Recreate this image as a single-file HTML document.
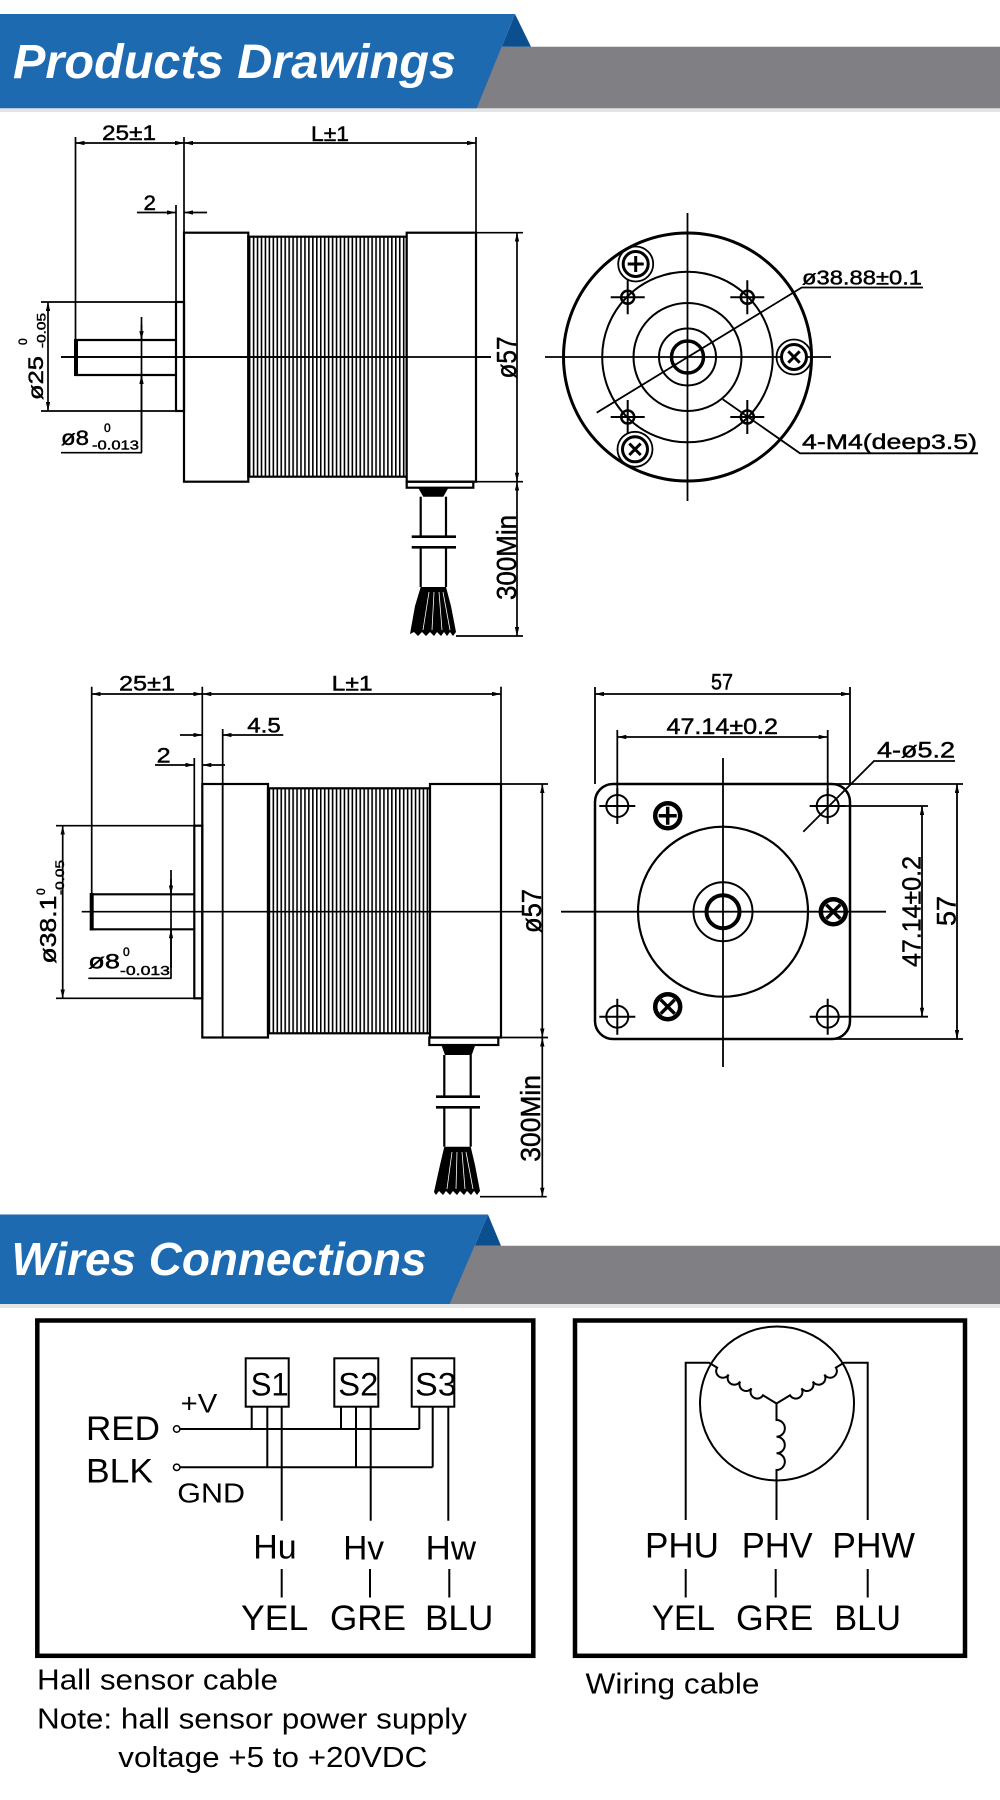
<!DOCTYPE html>
<html><head><meta charset="utf-8"><style>
html,body{margin:0;padding:0;background:#fff;}
svg{display:block;}
text{font-family:"Liberation Sans",Arial,sans-serif;fill:#000;}
.c{stroke:#000;stroke-width:0.45;}
</style></head><body>
<svg width="1000" height="1800" viewBox="0 0 1000 1800" xmlns="http://www.w3.org/2000/svg">
<defs>
<marker id="ar" viewBox="0 0 9 4.4" refX="9" refY="2.2" markerWidth="9" markerHeight="4.4" markerUnits="userSpaceOnUse" orient="auto-start-reverse"><path d="M0,0 L9,2.2 L0,4.4z" fill="#000" stroke="none"/></marker>
<pattern id="fin" x="0" y="0" width="3.95" height="20" patternUnits="userSpaceOnUse"><rect x="0" y="0" width="1.6" height="20" fill="#000"/></pattern>
</defs>
<rect width="1000" height="1800" fill="#fff"/>

<!-- Banner 1 -->
<rect x="0" y="108" width="1000" height="4" fill="#e4e4e4"/>
<polygon points="400,46.7 1000,46.7 1000,108.3 400,108.3" fill="#807f84"/>
<polygon points="515,14 531,46.7 501.7,46.7" fill="#0c4f8e"/>
<polygon points="0,14 515,14 476.7,108.3 0,108.3" fill="#1e6ab1"/>
<text x="13" y="78" font-size="48" font-weight="bold" font-style="italic" style="fill:#fff" textLength="443" lengthAdjust="spacingAndGlyphs">Products Drawings</text>

<!-- Banner 2 -->
<rect x="0" y="1304" width="1000" height="4" fill="#e4e4e4"/>
<polygon points="380,1245.7 1000,1245.7 1000,1304 380,1304" fill="#807f84"/>
<polygon points="488,1214.5 501,1245.7 474.6,1245.7" fill="#0c4f8e"/>
<polygon points="0,1214.5 488,1214.5 449.6,1304 0,1304" fill="#1e6ab1"/>
<text x="11.5" y="1275" font-size="46" font-weight="bold" font-style="italic" style="fill:#fff" textLength="415" lengthAdjust="spacingAndGlyphs">Wires Connections</text>

<!-- ===== Drawing 1: side view ===== -->
<g fill="none" stroke="#000" stroke-width="1.7">
 <line x1="75.5" y1="137" x2="75.5" y2="340"/>
 <line x1="184" y1="137" x2="184" y2="233"/>
 <line x1="476" y1="137" x2="476" y2="233"/>
 <line x1="75.5" y1="143" x2="184" y2="143" marker-start="url(#ar)" marker-end="url(#ar)"/>
 <line x1="184" y1="143" x2="476" y2="143" marker-start="url(#ar)" marker-end="url(#ar)"/>
 <line x1="176" y1="205" x2="176" y2="302"/>
 <line x1="137" y1="212.5" x2="176" y2="212.5" marker-end="url(#ar)"/>
 <line x1="207" y1="212.5" x2="184" y2="212.5" marker-end="url(#ar)"/>
 <line x1="61" y1="357" x2="491" y2="357"/>
 <line x1="41" y1="302" x2="184" y2="302"/>
 <line x1="41" y1="411" x2="184" y2="411"/>
 <line x1="48" y1="302" x2="48" y2="411" marker-start="url(#ar)" marker-end="url(#ar)"/>
 <line x1="141.5" y1="317" x2="141.5" y2="452.7"/>
 <line x1="141.5" y1="325" x2="141.5" y2="340" marker-end="url(#ar)"/>
 <line x1="141.5" y1="440" x2="141.5" y2="375" marker-end="url(#ar)"/>
 <line x1="61" y1="452.7" x2="142" y2="452.7"/>
 <line x1="476" y1="232.7" x2="523" y2="232.7"/>
 <line x1="476" y1="481.7" x2="523" y2="481.7"/>
 <line x1="517" y1="232.7" x2="517" y2="481.7" marker-start="url(#ar)" marker-end="url(#ar)"/>
 <line x1="517" y1="481.7" x2="517" y2="636" marker-start="url(#ar)" marker-end="url(#ar)"/>
 <line x1="456" y1="636" x2="523" y2="636"/>
</g>
<g fill="none" stroke="#000" stroke-width="2.2">
 <rect x="176" y="302" width="8" height="109"/>
 <polyline points="176,340 76,340 76,375 176,375"/>
 <line x1="76" y1="339" x2="76" y2="376" stroke-width="4"/>
 <rect x="184" y="232.7" width="64.3" height="249"/>
 <rect x="248.3" y="236.7" width="158.4" height="240" fill="url(#fin)"/>
 <rect x="406.7" y="232.7" width="69.3" height="249" fill="#fff"/>
 <rect x="406.7" y="481.7" width="66.6" height="6"/>
 <line x1="420.7" y1="496.7" x2="420.7" y2="536.7"/>
 <line x1="446" y1="496.7" x2="446" y2="536.7"/>
 <line x1="420.7" y1="547.3" x2="420.7" y2="587"/>
 <line x1="446" y1="547.3" x2="446" y2="587"/>
 <line x1="411.7" y1="536.7" x2="456" y2="536.7" stroke-width="2.6"/>
 <line x1="411.7" y1="547.3" x2="456" y2="547.3" stroke-width="2.6"/>
</g>
<line x1="61" y1="357" x2="491" y2="357" stroke="#000" stroke-width="1.7"/>
<polygon points="418.3,488 448.3,488 443.3,496.7 423.3,496.7" fill="#000"/>
<polygon points="420.7,587 446,587 451,606 456,632 453,636 450,632 447,636 444,632 441,636 437,632 434,636 430,632 426,636 422,632 418,636 414,632 410,634 415,606" fill="#000"/>
<g stroke="#fff" stroke-width="0.8"><line x1="429" y1="592" x2="423" y2="630"/><line x1="434" y1="592" x2="432" y2="630"/><line x1="439" y1="592" x2="442" y2="630"/><line x1="443" y1="592" x2="450" y2="630"/></g>

<g class="c">
<text x="102" y="140" font-size="21" textLength="54" lengthAdjust="spacingAndGlyphs">25±1</text>
<text x="311" y="141" font-size="21" textLength="38" lengthAdjust="spacingAndGlyphs">L±1</text>
<text x="143.5" y="210" font-size="21" textLength="12.5" lengthAdjust="spacingAndGlyphs">2</text>
<text transform="translate(43,400) rotate(-90)" font-size="21" textLength="44" lengthAdjust="spacingAndGlyphs">ø25</text>
<text transform="translate(27,345) rotate(-90)" font-size="12">0</text>
<text transform="translate(45.5,348) rotate(-90)" font-size="12" textLength="35" lengthAdjust="spacingAndGlyphs">-0.05</text>
<text x="61" y="445" font-size="21" textLength="28" lengthAdjust="spacingAndGlyphs">ø8</text>
<text x="104" y="432" font-size="12">0</text>
<text x="92" y="449.5" font-size="13" textLength="47" lengthAdjust="spacingAndGlyphs">-0.013</text>
<text transform="translate(516,378.5) rotate(-90)" font-size="28" textLength="42" lengthAdjust="spacingAndGlyphs">ø57</text>
<text transform="translate(516,600) rotate(-90)" font-size="28" textLength="85" lengthAdjust="spacingAndGlyphs">300Min</text>
</g>

<!-- ===== Front view (round) ===== -->
<g fill="none" stroke="#000">
 <circle cx="687.5" cy="357" r="124" stroke-width="3"/>
 <circle cx="687.5" cy="357" r="85.3" stroke-width="2"/>
 <circle cx="687.5" cy="357" r="54" stroke-width="2"/>
 <circle cx="687.5" cy="357" r="28.5" stroke-width="2"/>
 <circle cx="687.5" cy="357" r="16" stroke-width="3.5"/>
 <g stroke-width="1.8">
  <line x1="687.5" y1="213" x2="687.5" y2="501"/>
  <line x1="545" y1="357" x2="831" y2="357"/>
  <polyline points="596.7,412.7 801.7,287.5 923,287.5"/>
  <polyline points="722.7,399.3 800,453.3 978,453.3"/>
 </g>
 <g stroke-width="2.5">
  <circle cx="627.7" cy="297.3" r="6.5"/>
  <circle cx="747.3" cy="297.3" r="6.5"/>
  <circle cx="627.7" cy="417" r="6.5"/>
  <circle cx="747.3" cy="417" r="6.5"/>
 </g>
 <path stroke-width="2" d="M610.7,297.3H644.7M627.7,280.3V314.3M730.3,297.3H764.3M747.3,280.3V314.3M610.7,417H644.7M627.7,400V434M730.3,417H764.3M747.3,400V434"/>
 <g stroke-width="1.8">
  <circle cx="635.7" cy="264" r="17.5"/>
  <circle cx="794" cy="357" r="17.5"/>
  <circle cx="635" cy="449.3" r="17.5"/>
 </g>
 <g stroke-width="3">
  <circle cx="635.7" cy="264" r="12.5" fill="#fff"/>
  <circle cx="794" cy="357" r="12.5" fill="#fff"/>
  <circle cx="635" cy="449.3" r="12.5" fill="#fff"/>
  <path d="M627.7,264H643.7M635.7,256V272M788.3,351.3L799.7,362.7M799.7,351.3L788.3,362.7M629.3,443.6L640.7,455M640.7,443.6L629.3,455"/>
 </g>
</g>
<g class="c">
<text x="802" y="284.5" font-size="20" textLength="120" lengthAdjust="spacingAndGlyphs">ø38.88±0.1</text>
<text x="802" y="449" font-size="21" textLength="175" lengthAdjust="spacingAndGlyphs">4-M4(deep3.5)</text>
</g>

<!-- ===== Drawing 2: side view ===== -->
<g fill="none" stroke="#000" stroke-width="1.7">
 <line x1="91.7" y1="686.7" x2="91.7" y2="895"/>
 <line x1="202.3" y1="686.7" x2="202.3" y2="785"/>
 <line x1="501" y1="686.7" x2="501" y2="785"/>
 <line x1="91.7" y1="694" x2="202.3" y2="694" marker-start="url(#ar)" marker-end="url(#ar)"/>
 <line x1="202.3" y1="694" x2="501" y2="694" marker-start="url(#ar)" marker-end="url(#ar)"/>
 <line x1="222.7" y1="729" x2="222.7" y2="1037.5"/>
 <line x1="180" y1="735" x2="202.3" y2="735" marker-end="url(#ar)"/>
 <line x1="283.3" y1="735" x2="222.7" y2="735" marker-end="url(#ar)"/>
 <line x1="194.3" y1="758" x2="194.3" y2="826"/>
 <line x1="155" y1="765" x2="194.3" y2="765" marker-end="url(#ar)"/>
 <line x1="225" y1="765" x2="202.3" y2="765" marker-end="url(#ar)"/>
 <line x1="56" y1="825.7" x2="202.3" y2="825.7"/>
 <line x1="56" y1="998.3" x2="202.3" y2="998.3"/>
 <line x1="62.7" y1="825.7" x2="62.7" y2="998.3" marker-start="url(#ar)" marker-end="url(#ar)"/>
 <line x1="171" y1="870" x2="171" y2="978.3"/>
 <line x1="171" y1="879" x2="171" y2="894.3" marker-end="url(#ar)"/>
 <line x1="171" y1="968" x2="171" y2="929.3" marker-end="url(#ar)"/>
 <line x1="88.3" y1="978.3" x2="171.5" y2="978.3"/>
 <line x1="501" y1="784" x2="548" y2="784"/>
 <line x1="501" y1="1037.5" x2="548" y2="1037.5"/>
 <line x1="542.3" y1="784" x2="542.3" y2="1037.5" marker-start="url(#ar)" marker-end="url(#ar)"/>
 <line x1="542.3" y1="1037.5" x2="542.3" y2="1196.7" marker-start="url(#ar)" marker-end="url(#ar)"/>
 <line x1="480" y1="1196.7" x2="546.7" y2="1196.7"/>
</g>
<g fill="none" stroke="#000" stroke-width="2.2">
 <rect x="194.3" y="825.7" width="8" height="172.6"/>
 <polyline points="194.3,894.3 91.7,894.3 91.7,929.3 194.3,929.3"/>
 <line x1="91.7" y1="893" x2="91.7" y2="930.5" stroke-width="4"/>
 <rect x="202.3" y="784" width="65.7" height="253.5"/>
 <rect x="268" y="788.3" width="162" height="245" fill="url(#fin)"/>
 <rect x="430" y="784" width="71" height="253.5" fill="#fff"/>
 <rect x="429.3" y="1037.5" width="69" height="7.5"/>
 <line x1="444.3" y1="1055" x2="444.3" y2="1096.7"/>
 <line x1="470.7" y1="1055" x2="470.7" y2="1096.7"/>
 <line x1="444.3" y1="1107.3" x2="444.3" y2="1146.7"/>
 <line x1="470.7" y1="1107.3" x2="470.7" y2="1146.7"/>
 <line x1="436" y1="1096.7" x2="480" y2="1096.7" stroke-width="2.6"/>
 <line x1="436" y1="1107.3" x2="480" y2="1107.3" stroke-width="2.6"/>
</g>
<line x1="222.7" y1="784" x2="222.7" y2="1037.5" stroke="#000" stroke-width="1.7"/>
<line x1="81.7" y1="911.7" x2="523" y2="911.7" stroke="#000" stroke-width="1.7"/>
<polygon points="441.7,1046 475,1046 471.7,1055 445,1055" fill="#000"/>
<polygon points="444.3,1146.7 470.7,1146.7 475,1165 480,1191 477,1195 474,1191 471,1195 467,1191 464,1195 460,1191 457,1195 453,1191 450,1195 446,1191 443,1195 439,1191 436,1195 434,1192 440,1165" fill="#000"/>
<g stroke="#fff" stroke-width="0.8"><line x1="452" y1="1152" x2="447" y2="1189"/><line x1="457" y1="1152" x2="456" y2="1189"/><line x1="462" y1="1152" x2="465" y2="1189"/><line x1="466" y1="1152" x2="473" y2="1189"/></g>

<g class="c">
<text x="119" y="690.7" font-size="21" textLength="56" lengthAdjust="spacingAndGlyphs">25±1</text>
<text x="331.6" y="690.5" font-size="21" textLength="41" lengthAdjust="spacingAndGlyphs">L±1</text>
<text x="247.3" y="732.3" font-size="21" textLength="33.4" lengthAdjust="spacingAndGlyphs">4.5</text>
<text x="156.7" y="762.7" font-size="21" textLength="14" lengthAdjust="spacingAndGlyphs">2</text>
<text transform="translate(56,963.6) rotate(-90)" font-size="23" textLength="68" lengthAdjust="spacingAndGlyphs">ø38.1</text>
<text transform="translate(45,895) rotate(-90)" font-size="12">0</text>
<text transform="translate(64,895) rotate(-90)" font-size="12" textLength="35" lengthAdjust="spacingAndGlyphs">-0.05</text>
<text x="88.3" y="968.3" font-size="21" textLength="31.7" lengthAdjust="spacingAndGlyphs">ø8</text>
<text x="123" y="956" font-size="12">0</text>
<text x="120" y="975" font-size="13" textLength="50" lengthAdjust="spacingAndGlyphs">-0.013</text>
<text transform="translate(541,933) rotate(-90)" font-size="28" textLength="44" lengthAdjust="spacingAndGlyphs">ø57</text>
<text transform="translate(540,1161.7) rotate(-90)" font-size="28" textLength="86.7" lengthAdjust="spacingAndGlyphs">300Min</text>
</g>

<!-- ===== Square flange view ===== -->
<g fill="none" stroke="#000">
 <rect x="595" y="784" width="255" height="255" rx="18" stroke-width="2.5"/>
 <circle cx="723" cy="911.7" r="85" stroke-width="2.2"/>
 <circle cx="723" cy="911.7" r="29.5" stroke-width="2"/>
 <circle cx="723" cy="911.7" r="16.5" stroke-width="4"/>
 <g stroke-width="1.8">
  <line x1="723" y1="758" x2="723" y2="1067"/>
  <line x1="561" y1="911.7" x2="886" y2="911.7"/>
  <line x1="595" y1="687" x2="595" y2="784"/>
  <line x1="850" y1="687" x2="850" y2="784"/>
  <line x1="595" y1="694" x2="850" y2="694" marker-start="url(#ar)" marker-end="url(#ar)"/>
  <line x1="617.3" y1="730" x2="617.3" y2="795"/>
  <line x1="827.7" y1="730" x2="827.7" y2="795"/>
  <line x1="617.3" y1="737" x2="827.7" y2="737" marker-start="url(#ar)" marker-end="url(#ar)"/>
  <line x1="845" y1="806" x2="928" y2="806"/>
  <line x1="845" y1="1016.7" x2="928" y2="1016.7"/>
  <line x1="922" y1="806" x2="922" y2="1016.7" marker-start="url(#ar)" marker-end="url(#ar)"/>
  <line x1="612" y1="784" x2="963" y2="784"/>
  <line x1="612" y1="1039" x2="963" y2="1039"/>
  <line x1="957" y1="784" x2="957" y2="1039" marker-start="url(#ar)" marker-end="url(#ar)"/>
  <polyline points="803.3,831.7 874,761 955,761"/>
 </g>
 <g stroke-width="2">
  <circle cx="617.3" cy="806" r="11"/>
  <circle cx="827.7" cy="806" r="11"/>
  <circle cx="617.3" cy="1016.7" r="11"/>
  <circle cx="827.7" cy="1016.7" r="11"/>
  <path d="M599.3,806H635.3M617.3,788V824M809.7,806H845.7M827.7,788V824M599.3,1016.7H635.3M617.3,998.7V1034.7M809.7,1016.7H845.7M827.7,998.7V1034.7"/>
 </g>
 <g stroke-width="4.5">
  <circle cx="667.7" cy="815.7" r="12.5"/>
  <circle cx="833.3" cy="911.7" r="12.5"/>
  <circle cx="667.7" cy="1006.7" r="12.5"/>
 </g>
 <path stroke-width="3.5" d="M658.7,815.7H676.7M667.7,806.7V824.7M826.3,904.7L840.3,918.7M840.3,904.7L826.3,918.7M660.7,999.7L674.7,1013.7M674.7,999.7L660.7,1013.7"/>
</g>
<g class="c">
<text x="711" y="689.5" font-size="22" textLength="22" lengthAdjust="spacingAndGlyphs">57</text>
<text x="666.5" y="734" font-size="22" textLength="111.5" lengthAdjust="spacingAndGlyphs">47.14±0.2</text>
<text x="877" y="757.5" font-size="22" textLength="78" lengthAdjust="spacingAndGlyphs">4-ø5.2</text>
<text transform="translate(920.5,967) rotate(-90)" font-size="26" textLength="111" lengthAdjust="spacingAndGlyphs">47.14±0.2</text>
<text transform="translate(955.5,926) rotate(-90)" font-size="27" textLength="30" lengthAdjust="spacingAndGlyphs">57</text>
</g>

<!-- ===== Wires boxes ===== -->
<g fill="none" stroke="#000" stroke-width="4.5">
 <rect x="37.3" y="1320.5" width="496" height="335.3"/>
 <rect x="575" y="1320.5" width="390" height="335.3"/>
</g>
<g fill="none" stroke="#000" stroke-width="2">
 <rect x="245.7" y="1358.3" width="43" height="48.4"/>
 <rect x="334.3" y="1358.3" width="44" height="48.4"/>
 <rect x="411.7" y="1358.3" width="42.6" height="48.4"/>
 <path d="M251.7,1406.7V1429M267.3,1406.7V1467.3M281.7,1406.7V1520.7M341,1406.7V1429M356,1406.7V1467.3M370.7,1406.7V1520.7M419.3,1406.7V1429M432.7,1406.7V1467.3M448.3,1406.7V1520.7"/>
 <path d="M180,1429H419.3M180,1467.3H432.7"/>
 <path d="M281.7,1569V1597.5M370,1569V1597.5M449.3,1569V1597.5M685.7,1569V1597.5M775.7,1569V1597.5M867.7,1569V1597.5"/>
 <circle cx="777" cy="1403.5" r="77"/>
 <path d="M685.7,1520V1362.7H709L717.1,1367.6A6.7,6.7 0 0 0 728.6,1374.5A6.7,6.7 0 0 0 740.1,1381.5A6.7,6.7 0 0 0 751.5,1388.4A6.7,6.7 0 0 0 763,1395.3L776.5,1403.5"/>
 <path d="M867.7,1520V1362.7H844L835.9,1367.6A6.7,6.7 0 0 1 824.4,1374.5A6.7,6.7 0 0 1 812.9,1381.5A6.7,6.7 0 0 1 801.5,1388.4A6.7,6.7 0 0 1 790,1395.3L776.5,1403.5"/>
 <path d="M776.5,1403.5V1420A8.3,8.3 0 0 1 776.5,1436.7A8.3,8.3 0 0 1 776.5,1453.3A8.3,8.3 0 0 1 776.5,1470V1520"/>
</g>
<g fill="#fff" stroke="#000" stroke-width="1.5">
 <circle cx="176.7" cy="1429" r="3.2"/>
 <circle cx="176.7" cy="1467.3" r="3.2"/>
</g>
<text x="250.7" y="1395.7" font-size="32" textLength="38" lengthAdjust="spacingAndGlyphs">S1</text>
<text x="338.3" y="1395.7" font-size="32" textLength="40" lengthAdjust="spacingAndGlyphs">S2</text>
<text x="415" y="1395.7" font-size="32" textLength="41.7" lengthAdjust="spacingAndGlyphs">S3</text>
<text x="180.7" y="1412.7" font-size="27" textLength="36.6" lengthAdjust="spacingAndGlyphs">+V</text>
<text x="86" y="1440" font-size="34" textLength="74" lengthAdjust="spacingAndGlyphs">RED</text>
<text x="86" y="1482.3" font-size="34" textLength="67" lengthAdjust="spacingAndGlyphs">BLK</text>
<text x="177.3" y="1502.3" font-size="28" textLength="67.7" lengthAdjust="spacingAndGlyphs">GND</text>
<text x="253.3" y="1558.5" font-size="34" textLength="43.4" lengthAdjust="spacingAndGlyphs">Hu</text>
<text x="343.3" y="1559.5" font-size="34" textLength="40.7" lengthAdjust="spacingAndGlyphs">Hv</text>
<text x="425.7" y="1559.5" font-size="34" textLength="50.3" lengthAdjust="spacingAndGlyphs">Hw</text>
<text x="241" y="1630" font-size="35" textLength="67.3" lengthAdjust="spacingAndGlyphs">YEL</text>
<text x="330" y="1630" font-size="35" textLength="76" lengthAdjust="spacingAndGlyphs">GRE</text>
<text x="425" y="1630" font-size="35" textLength="68.3" lengthAdjust="spacingAndGlyphs">BLU</text>
<text x="645" y="1557.3" font-size="35" textLength="74" lengthAdjust="spacingAndGlyphs">PHU</text>
<text x="741.7" y="1557.3" font-size="35" textLength="71" lengthAdjust="spacingAndGlyphs">PHV</text>
<text x="832.3" y="1557.3" font-size="35" textLength="82.7" lengthAdjust="spacingAndGlyphs">PHW</text>
<text x="651.7" y="1630" font-size="35" textLength="63.3" lengthAdjust="spacingAndGlyphs">YEL</text>
<text x="736" y="1630" font-size="35" textLength="77.3" lengthAdjust="spacingAndGlyphs">GRE</text>
<text x="834.3" y="1630" font-size="35" textLength="66.7" lengthAdjust="spacingAndGlyphs">BLU</text>

<text x="37" y="1689.5" font-size="29" textLength="241" lengthAdjust="spacingAndGlyphs">Hall sensor cable</text>
<text x="37" y="1728.5" font-size="29" textLength="430" lengthAdjust="spacingAndGlyphs">Note: hall sensor power supply</text>
<text x="118.3" y="1767" font-size="29" textLength="309" lengthAdjust="spacingAndGlyphs">voltage +5 to +20VDC</text>
<text x="585.5" y="1693.4" font-size="29" textLength="174" lengthAdjust="spacingAndGlyphs">Wiring cable</text>
</svg>
</body></html>
